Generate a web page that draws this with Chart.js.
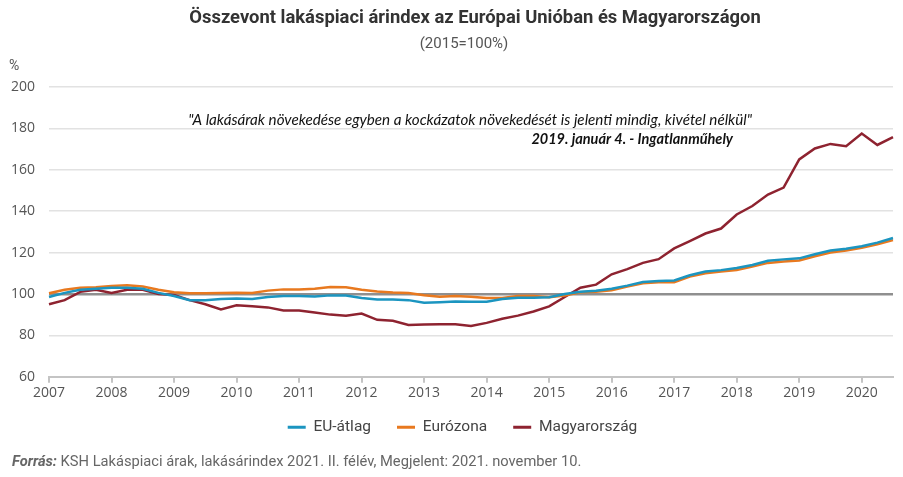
<!DOCTYPE html>
<html>
<head>
<meta charset="utf-8">
<script src="https://cdn.jsdelivr.net/npm/chart.js@4/dist/chart.umd.min.js"></script>
<style>
  html, body { margin: 0; padding: 0; background: #fff; }
  #wrap { width: 903px; height: 477px; position: relative; }
</style>
</head>
<body>
<div id="wrap"><canvas id="chart" width="903" height="477"></canvas></div>
<script>
const YEARS = [2007,2008,2009,2010,2011,2012,2013,2014,2015,2016,2017,2018,2019,2020];
const Y_TICKS = [60,80,100,120,140,160,180,200];

// quarterly index, 2015 = 100, 2007 Q1 .. 2020 Q3
const euAtlag = [
  98.5,100.5,102,102.5, 103,103,102.5,100.5, 99,97,97,97.5, 97.8,97.5,98.5,99,
  99,98.8,99.3,99.2, 98,97.3,97.3,97, 95.7,96,96.4,96.2, 96.2,97.5,98.2,98.2,
  98.4,100,101,101.5, 102.5,104,105.8,106.3, 106.5,109,110.8,111.5, 112.5,114,116,116.7,
  117.2,119.2,121,121.8, 123,124.8,127
];
const eurozona = [
  100.3,102,103,103.2, 103.8,104.2,103.6,102, 100.8,100.3,100.3,100.5, 100.6,100.4,101.6,102.2,
  102.2,102.5,103.4,103.2, 102,101.2,100.7,100.4, 99.4,98.6,99,98.6, 98,98,99,99,
  98.4,99.2,100.8,101, 101.8,103.6,105.2,105.6, 105.6,108.4,110,110.8, 111.6,113.2,115,115.7,
  116.2,118.2,120,121, 122.3,124,126
];
const magyarorszag = [
  95,97,101,102, 100.5,102,102,100, 99.5,97,95,92.5, 94.5,94,93.5,92,
  92,91,90,89.5, 90.5,87.5,87,85, 85.2,85.3,85.3,84.5, 86,88,89.5,91.5,
  94,98.5,103,104.5, 109.5,112,115,116.8, 122,125.5,129.2,131.6, 138.4,142.5,148,151.4,
  165,170.3,172.5,171.4, 177.5,172,175.8
];

const labels = [];
YEARS.forEach(y => { for (let q = 1; q <= 4; q++) labels.push(y + ' Q' + q); });
labels.length = euAtlag.length;

const COLORS = { eu: '#1b95c0', ez: '#e8791f', hu: '#8e2330' };

const textPlugin = {
  id: 'texts',
  afterLayout(chart) {
    // legend sits a bit right of the canvas centre and closer to the axis
    const lg = chart.legend;
    lg.left += 16; lg.right += 16;
    lg.top -= 10; lg.bottom -= 10;
  },
  afterDraw(chart) {
    const c = chart.ctx;
    c.save();
    c.textBaseline = 'middle';
    // title
    c.fillStyle = '#333';
    c.textAlign = 'center';
    c.font = 'bold 18.4px Roboto';
    c.fillText('Összevont lakáspiaci árindex az Európai Unióban és Magyarországon', 475, 18);
    c.fillStyle = '#555';
    c.font = '15px Roboto';
    c.fillText('(2015=100%)', 464, 44);
    // unit
    c.textAlign = 'left';
    c.font = '14px Roboto';
    c.fillText('%', 9, 66);
    // quote
    c.fillStyle = '#111';
    c.textAlign = 'right';
    c.font = 'italic 15.2px Lato';
    c.fillText('"A lakásárak növekedése egyben a kockázatok növekedését is jelenti mindig, kivétel nélkül"', 752, 120);
    c.font = 'italic bold 14.5px Lato';
    c.fillText('2019. január 4. - Ingatlanműhely', 733, 139);
    // source
    c.textAlign = 'left';
    c.fillStyle = '#666';
    c.font = 'italic bold 14.7px Roboto';
    const lead = 'Forrás:';
    c.fillText(lead, 12, 462);
    const w = c.measureText(lead).width;
    c.font = '14.7px Roboto';
    c.fillText(' KSH Lakáspiaci árak, lakásárindex 2021. II. félév, Megjelent: 2021. november 10.', 12 + w, 462);
    c.restore();
  }
};

const mk = (label, data, color) => ({
  label, data,
  borderColor: color, backgroundColor: color,
  borderWidth: 2.5, pointRadius: 0, tension: 0, fill: false
});

new Chart(document.getElementById('chart'), {
  type: 'line',
  data: {
    labels,
    datasets: [
      mk('EU-átlag', euAtlag, COLORS.eu),
      mk('Eurózona', eurozona, COLORS.ez),
      mk('Magyarország', magyarorszag, COLORS.hu)
    ]
  },
  options: {
    responsive: false,
    animation: false,
    layout: { padding: { top: 87, right: 10, left: 0, bottom: 22 } },
    plugins: {
      title: { display: false },
      tooltip: { enabled: false },
      legend: {
        position: 'bottom',
        labels: {
          font: { family: 'Roboto', size: 15.5 },
          color: '#444',
          boxWidth: 18,
          boxHeight: 3,
          padding: 26,
          generateLabels(chart) {
            return Chart.defaults.plugins.legend.labels.generateLabels(chart)
              .map(l => Object.assign(l, { lineWidth: 0 }));
          }
        }
      }
    },
    scales: {
      x: {
        type: 'category',
        offset: false,
        border: { color: '#c4c4c4', width: 2 },
        grid: { drawOnChartArea: false, drawTicks: true, tickLength: 6, color: '#c4c4c4', lineWidth: 2 },
        ticks: {
          autoSkip: false, maxRotation: 0, padding: 2,
          font: { family: 'Open Sans', size: 14 }, color: '#555',
          callback(v, i) { return i % 4 === 0 ? String(YEARS[i / 4]) : null; }
        }
      },
      y: {
        min: Y_TICKS[0], max: Y_TICKS[Y_TICKS.length - 1],
        afterBuildTicks(s) { s.ticks = Y_TICKS.map(v => ({ value: v })); },
        afterFit(s) { s.width = 49; },
        border: { display: false },
        grid: {
          drawTicks: false,
          color: ctx => ctx.tick && ctx.tick.value === 100 ? '#8f8f8f' : '#e2e2e2',
          lineWidth: ctx => ctx.tick && ctx.tick.value === 100 ? 2.5 : 1.5
        },
        ticks: { padding: 14, font: { family: 'Open Sans', size: 14 }, color: '#555' }
      }
    }
  },
  plugins: [textPlugin]
});
</script>
</body>
</html>
